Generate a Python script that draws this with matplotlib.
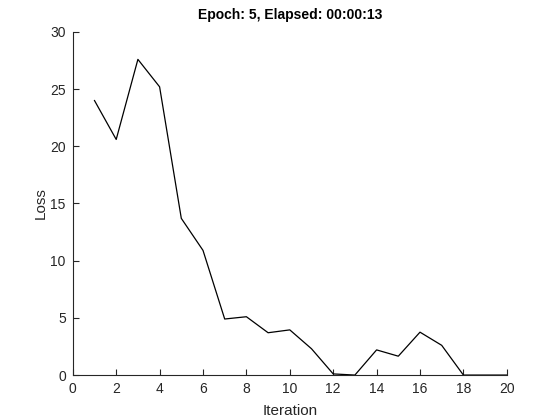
import numpy as np
import matplotlib.pyplot as plt

plt.rcParams['font.family'] = ['Liberation Sans', 'DejaVu Sans']

iteration = np.arange(1, 21)
loss = [24.0, 20.6, 27.6, 25.2, 13.7, 10.9, 4.9, 5.1, 3.7, 3.95,
        2.3, 0.1, 0.0, 2.2, 1.65, 3.75, 2.6, 0.0, 0.0, 0.0]

fig = plt.figure(figsize=(5.6, 4.2), dpi=100)
ax = fig.add_axes([0.13, 0.107, 0.775, 0.817])
ax.plot(iteration, loss, color='black', linewidth=0.9)

ax.set_xlim(0, 20)
ax.set_ylim(0, 30)
ax.set_xticks(np.arange(0, 21, 2))
ax.set_yticks(np.arange(0, 31, 5))
ax.spines['top'].set_visible(False)
ax.spines['right'].set_visible(False)
ax.spines['left'].set_color('#262626')
ax.spines['bottom'].set_color('#262626')
ax.tick_params(direction='in', length=4, labelsize=10, colors='#262626', pad=5)

ax.set_title("Epoch: 5, Elapsed: 00:00:13", fontsize=10, fontweight='bold', pad=9)
ax.set_xlabel("Iteration", fontsize=11, color='#262626', labelpad=6)
ax.set_ylabel("Loss", fontsize=11, color='#262626', labelpad=2)

fig.savefig("out.png", dpi=100)
